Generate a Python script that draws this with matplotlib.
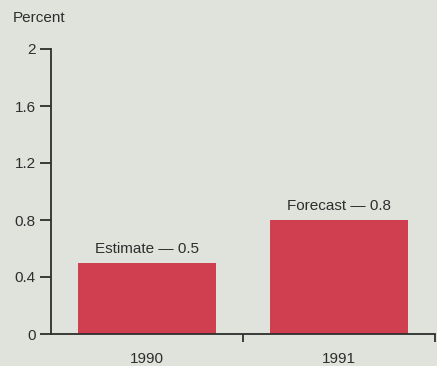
import matplotlib.pyplot as plt

plt.rcParams['font.family'] = ['Liberation Sans', 'DejaVu Sans']

# data
years = ['1990', '1991']
values = [0.5, 0.8]
notes = ['Estimate \u2014 0.5', 'Forecast \u2014 0.8']
yticks = [0, 0.4, 0.8, 1.2, 1.6, 2]
ytick_labels = ['0', '0.4', '0.8', '1.2', '1.6', '2']

bg = '#dfe3dc'
bar_color = '#cf3f50'
ink = '#2e2e2e'
fs = 11

fig = plt.figure(figsize=(4.37, 3.66), dpi=100, facecolor=bg)
ax = fig.add_axes([51 / 437, 32 / 366, 384 / 437, 285 / 366], facecolor=bg)

pos = range(len(years))
ax.bar(pos, values, width=0.72, color=bar_color, zorder=2)
for p, v, note in zip(pos, values, notes):
    ax.text(p, v + 0.05, note, ha='center', va='bottom', fontsize=fs, color=ink)

ax.set_xlim(-0.5, 1.5)
ax.set_ylim(0, 2)

ax.set_yticks(yticks)
ax.set_yticklabels(ytick_labels)
ax.set_xticks([0.5, 1.5])
ax.set_xticklabels(['', ''])
ax.set_xticks(list(pos), minor=True)
ax.set_xticklabels(years, minor=True)

ax.tick_params(axis='y', direction='out', length=8, width=1.3, color=ink,
               labelsize=fs, labelcolor=ink, pad=3)
ax.tick_params(axis='x', which='major', direction='out', length=6, width=1.3, color=ink)
ax.tick_params(axis='x', which='minor', length=0, labelsize=fs, labelcolor=ink, pad=13)

for side in ['top', 'right']:
    ax.spines[side].set_visible(False)
for side in ['left', 'bottom']:
    ax.spines[side].set_color(ink)
    ax.spines[side].set_linewidth(1.3)
ax.spines['bottom'].set_zorder(3)

fig.text(13 / 437, 1 - 18 / 366, 'Percent', ha='left', va='center', fontsize=fs, color=ink)

fig.savefig('out.png', dpi=100, facecolor=bg)
